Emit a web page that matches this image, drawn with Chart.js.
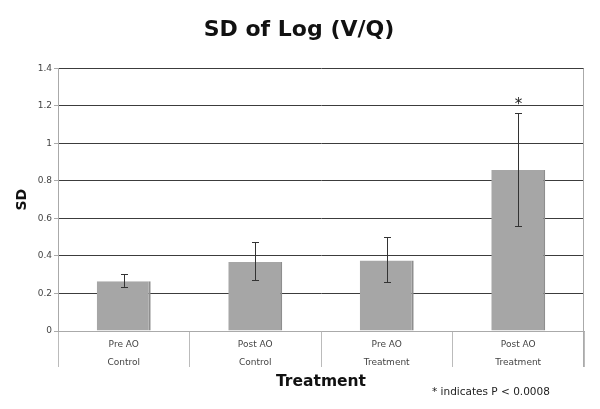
<!DOCTYPE html>
<html>
<head>
<meta charset="utf-8">
<script src="https://cdn.jsdelivr.net/npm/chart.js@4"></script>
<style>
    body { margin: 0; background: #fff; }
    #wrap { position: relative; width: 600px; height: 409px; }
    #note { position: absolute; left: 432px; top: 385px; font: 10.5px "DejaVu Sans"; color: #222; }
</style>
</head>
<body>
<div id="wrap">
    <canvas id="ChartSD" width="600" height="409"></canvas>
    <div id="note">* indicates P &lt; 0.0008</div>
</div>
<script>
const categorias = [['Pre AO', 'Control'], ['Post AO', 'Control'], ['Pre AO', 'Treatment'], ['Post AO', 'Treatment']];
const mediaSD = [0.265, 0.368, 0.376, 0.858];
const erroMin = [0.235, 0.27, 0.26, 0.558];
const erroMax = [0.302, 0.472, 0.50, 1.16];
const significativo = [null, null, null, 1.22];
const yTickLabels = ['0', '0.2', '0.4', '0.6', '0.8', '1', '1.2', '1.4'];

const ctxSD = document.getElementById('ChartSD');

// barras de erro + asterisco
const errorBars = {
    id: 'errorBars',
    afterDatasetsDraw(chart) {
        const { ctx, scales: { y } } = chart;
        const meta = chart.getDatasetMeta(0);
        ctx.save();
        ctx.strokeStyle = '#333';
        ctx.lineWidth = 1;
        meta.data.forEach((bar, i) => {
            let x = Math.round(bar.x) + 0.5,
                yTop = y.getPixelForValue(erroMax[i]),
                yBot = y.getPixelForValue(erroMin[i]);
            ctx.beginPath();
            ctx.moveTo(x, yTop);
            ctx.lineTo(x, yBot);
            ctx.moveTo(x - 3.5, Math.round(yTop) + 0.5);
            ctx.lineTo(x + 3.5, Math.round(yTop) + 0.5);
            ctx.moveTo(x - 3.5, Math.round(yBot) + 0.5);
            ctx.lineTo(x + 3.5, Math.round(yBot) + 0.5);
            ctx.stroke();
            if (significativo[i] !== null) {
                ctx.fillStyle = '#222';
                ctx.font = '15px "DejaVu Sans"';
                ctx.textAlign = 'center';
                ctx.textBaseline = 'middle';
                ctx.fillText('*', x, y.getPixelForValue(significativo[i]) + 3);
            }
        });
        // borda direita
        const area = chart.chartArea;
        ctx.strokeStyle = '#aaa';
        ctx.beginPath();
        ctx.moveTo(Math.round(area.right) - 0.5, area.top);
        ctx.lineTo(Math.round(area.right) - 0.5, area.bottom + 36);
        ctx.stroke();
        ctx.restore();
    }
};

new Chart(ctxSD, {
    type: 'bar',
    data: {
        labels: categorias,
        datasets: [{
            label: 'SD',
            data: mediaSD,
            backgroundColor: '#a6a6a6',
            borderColor: '#8e8e8e',
            borderWidth: { top: 0, left: 0, bottom: 0, right: 2 },
            borderSkipped: false,
            barPercentage: 0.41,
            categoryPercentage: 1,
        }]
    },
    options: {
        responsive: false,
        animation: false,
        layout: { padding: { left: 14, right: 16, bottom: 18 } },
        plugins: {
            legend: { display: false },
            tooltip: { enabled: false },
            title: {
                display: true,
                text: 'SD of Log (V/Q)',
                color: '#111',
                font: { family: 'DejaVu Sans', size: 22, weight: 'bold' },
                padding: { top: 17, bottom: 25 },
            },
        },
        scales: {
            x: {
                afterFit: scale => { scale.height = 60; },
                grid: {
                    offset: true,
                    drawOnChartArea: false,
                    color: '#bbb',
                    tickLength: 36,
                },
                border: { color: '#aaa' },
                ticks: {
                    color: '#444',
                    font: { family: 'DejaVu Sans', size: 9, lineHeight: 2 },
                    padding: -31,
                    maxRotation: 0,
                },
                title: {
                    display: true,
                    text: 'Treatment',
                    color: '#111',
                    font: { family: 'DejaVu Sans', size: 15.5, weight: 'bold' },
                    padding: { top: 2, bottom: 0 },
                },
            },
            y: {
                afterFit: scale => { scale.width = 44; },
                min: 0,
                max: 1.4,
                ticks: {
                    stepSize: 0.2,
                    color: '#444',
                    font: { family: 'DejaVu Sans', size: 9 },
                    padding: 2,
                    callback: (value, index) => yTickLabels[index],
                },
                grid: {
                    color: ctx => ctx.tick && ctx.tick.value === 0 ? '#aaa' : '#3c3c3c',
                    tickColor: '#aaa',
                    tickLength: 4,
                },
                border: { color: '#aaa' },
                title: {
                    display: true,
                    text: 'SD',
                    color: '#111',
                    font: { family: 'DejaVu Sans', size: 14, weight: 'bold' },
                    padding: { top: 0, bottom: 0 },
                },
            }
        }
    },
    plugins: [errorBars],
});
</script>
</body>
</html>
